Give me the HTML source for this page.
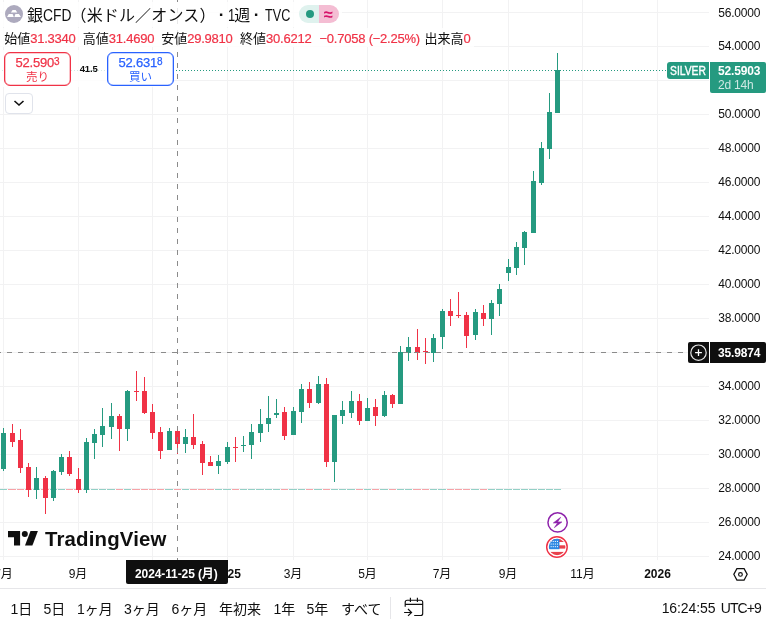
<!DOCTYPE html>
<html lang="ja">
<head>
<meta charset="utf-8">
<title>銀CFD（米ドル／オンス）・1週・TVC</title>
<style>
html,body{margin:0;padding:0;background:#fff;}
body{width:766px;height:624px;overflow:hidden;position:relative;font-family:"Liberation Sans","Noto Sans CJK JP",sans-serif;color:#0f0f0f;}
#chart{position:absolute;left:0;top:0;width:766px;height:624px;}
.t{position:absolute;white-space:nowrap;line-height:1;}
.ax{position:absolute;left:718.300px;font-size:12px;letter-spacing:-0.22px;line-height:14px;height:14px;white-space:nowrap;}
.tm{position:absolute;top:567px;font-size:12px;line-height:14px;height:14px;white-space:nowrap;transform:translateX(-50%);}
.lg{position:absolute;top:31px;font-size:13px;line-height:15px;height:15px;white-space:nowrap;}
.lg b{font-weight:normal;color:#f03246;letter-spacing:-0.23px;-webkit-text-stroke:0.2px;}
.rb{position:absolute;top:601px;font-size:14px;line-height:16px;height:16px;white-space:nowrap;}
.btn{position:absolute;top:52px;width:65px;height:32px;border:1px solid;border-radius:6px;box-shadow:inset 0 0 0 0.3px currentColor;background:#fff;text-align:center;}
.btn .p{position:absolute;left:0;right:0;top:2.500px;-webkit-text-stroke:0.250px;font-size:13px;line-height:14px;letter-spacing:-0.2px;}
.btn .p sup{font-size:10px;vertical-align:top;position:relative;top:-1px;letter-spacing:0;}
.btn .l{position:absolute;left:0;right:0;top:18px;font-size:11.5px;line-height:13px;}
</style>
</head>
<body>
<svg id="chart" width="766" height="624" viewBox="0 0 766 624" shape-rendering="crispEdges">
<rect x="0" y="12" width="709" height="1" fill="#f2f2f3"/>
<rect x="0" y="46" width="709" height="1" fill="#f2f2f3"/>
<rect x="0" y="80" width="709" height="1" fill="#f2f2f3"/>
<rect x="0" y="114" width="709" height="1" fill="#f2f2f3"/>
<rect x="0" y="148" width="709" height="1" fill="#f2f2f3"/>
<rect x="0" y="182" width="709" height="1" fill="#f2f2f3"/>
<rect x="0" y="216" width="709" height="1" fill="#f2f2f3"/>
<rect x="0" y="250" width="709" height="1" fill="#f2f2f3"/>
<rect x="0" y="284" width="709" height="1" fill="#f2f2f3"/>
<rect x="0" y="318" width="709" height="1" fill="#f2f2f3"/>
<rect x="0" y="352" width="709" height="1" fill="#f2f2f3"/>
<rect x="0" y="386" width="709" height="1" fill="#f2f2f3"/>
<rect x="0" y="420" width="709" height="1" fill="#f2f2f3"/>
<rect x="0" y="454" width="709" height="1" fill="#f2f2f3"/>
<rect x="0" y="488" width="709" height="1" fill="#f2f2f3"/>
<rect x="0" y="522" width="709" height="1" fill="#f2f2f3"/>
<rect x="0" y="556" width="709" height="1" fill="#f2f2f3"/>
<rect x="3" y="0" width="1" height="560" fill="#f2f2f3"/>
<rect x="78" y="0" width="1" height="560" fill="#f2f2f3"/>
<rect x="152" y="0" width="1" height="560" fill="#f2f2f3"/>
<rect x="227" y="0" width="1" height="560" fill="#f2f2f3"/>
<rect x="293" y="0" width="1" height="560" fill="#f2f2f3"/>
<rect x="367" y="0" width="1" height="560" fill="#f2f2f3"/>
<rect x="442" y="0" width="1" height="560" fill="#f2f2f3"/>
<rect x="508" y="0" width="1" height="560" fill="#f2f2f3"/>
<rect x="582" y="0" width="1" height="560" fill="#f2f2f3"/>
<rect x="657" y="0" width="1" height="560" fill="#f2f2f3"/>
<rect x="0" y="489" width="7" height="1" fill="#93d0c6"/>
<rect x="8" y="489" width="8" height="1" fill="#f7a3a8"/>
<rect x="17" y="489" width="7" height="1" fill="#f7a3a8"/>
<rect x="25" y="489" width="7" height="1" fill="#f7a3a8"/>
<rect x="33" y="489" width="7" height="1" fill="#93d0c6"/>
<rect x="41" y="489" width="8" height="1" fill="#f7a3a8"/>
<rect x="50" y="489" width="7" height="1" fill="#93d0c6"/>
<rect x="58" y="489" width="7" height="1" fill="#93d0c6"/>
<rect x="66" y="489" width="7" height="1" fill="#f7a3a8"/>
<rect x="74" y="489" width="8" height="1" fill="#f7a3a8"/>
<rect x="83" y="489" width="7" height="1" fill="#93d0c6"/>
<rect x="91" y="489" width="7" height="1" fill="#93d0c6"/>
<rect x="99" y="489" width="7" height="1" fill="#93d0c6"/>
<rect x="107" y="489" width="8" height="1" fill="#93d0c6"/>
<rect x="116" y="489" width="7" height="1" fill="#f7a3a8"/>
<rect x="124" y="489" width="7" height="1" fill="#93d0c6"/>
<rect x="132" y="489" width="8" height="1" fill="#f7a3a8"/>
<rect x="141" y="489" width="7" height="1" fill="#f7a3a8"/>
<rect x="149" y="489" width="7" height="1" fill="#f7a3a8"/>
<rect x="157" y="489" width="7" height="1" fill="#f7a3a8"/>
<rect x="165" y="489" width="8" height="1" fill="#93d0c6"/>
<rect x="174" y="489" width="7" height="1" fill="#f7a3a8"/>
<rect x="182" y="489" width="7" height="1" fill="#93d0c6"/>
<rect x="190" y="489" width="7" height="1" fill="#f7a3a8"/>
<rect x="198" y="489" width="8" height="1" fill="#f7a3a8"/>
<rect x="207" y="489" width="7" height="1" fill="#f7a3a8"/>
<rect x="215" y="489" width="7" height="1" fill="#93d0c6"/>
<rect x="223" y="489" width="8" height="1" fill="#93d0c6"/>
<rect x="232" y="489" width="7" height="1" fill="#f7a3a8"/>
<rect x="240" y="489" width="7" height="1" fill="#93d0c6"/>
<rect x="248" y="489" width="7" height="1" fill="#93d0c6"/>
<rect x="256" y="489" width="8" height="1" fill="#93d0c6"/>
<rect x="265" y="489" width="7" height="1" fill="#93d0c6"/>
<rect x="273" y="489" width="7" height="1" fill="#93d0c6"/>
<rect x="281" y="489" width="7" height="1" fill="#f7a3a8"/>
<rect x="289" y="489" width="8" height="1" fill="#93d0c6"/>
<rect x="298" y="489" width="7" height="1" fill="#93d0c6"/>
<rect x="306" y="489" width="7" height="1" fill="#f7a3a8"/>
<rect x="314" y="489" width="8" height="1" fill="#93d0c6"/>
<rect x="323" y="489" width="7" height="1" fill="#f7a3a8"/>
<rect x="331" y="489" width="7" height="1" fill="#93d0c6"/>
<rect x="339" y="489" width="7" height="1" fill="#93d0c6"/>
<rect x="347" y="489" width="8" height="1" fill="#93d0c6"/>
<rect x="356" y="489" width="7" height="1" fill="#f7a3a8"/>
<rect x="364" y="489" width="7" height="1" fill="#93d0c6"/>
<rect x="372" y="489" width="7" height="1" fill="#f7a3a8"/>
<rect x="380" y="489" width="8" height="1" fill="#93d0c6"/>
<rect x="389" y="489" width="7" height="1" fill="#f7a3a8"/>
<rect x="397" y="489" width="7" height="1" fill="#93d0c6"/>
<rect x="405" y="489" width="7" height="1" fill="#93d0c6"/>
<rect x="413" y="489" width="8" height="1" fill="#f7a3a8"/>
<rect x="422" y="489" width="7" height="1" fill="#f7a3a8"/>
<rect x="430" y="489" width="7" height="1" fill="#93d0c6"/>
<rect x="438" y="489" width="8" height="1" fill="#93d0c6"/>
<rect x="447" y="489" width="7" height="1" fill="#f7a3a8"/>
<rect x="455" y="489" width="7" height="1" fill="#f7a3a8"/>
<rect x="463" y="489" width="7" height="1" fill="#f7a3a8"/>
<rect x="471" y="489" width="8" height="1" fill="#93d0c6"/>
<rect x="480" y="489" width="7" height="1" fill="#f7a3a8"/>
<rect x="488" y="489" width="7" height="1" fill="#93d0c6"/>
<rect x="496" y="489" width="7" height="1" fill="#93d0c6"/>
<rect x="504" y="489" width="8" height="1" fill="#93d0c6"/>
<rect x="513" y="489" width="7" height="1" fill="#93d0c6"/>
<rect x="521" y="489" width="7" height="1" fill="#93d0c6"/>
<rect x="529" y="489" width="8" height="1" fill="#93d0c6"/>
<rect x="538" y="489" width="7" height="1" fill="#93d0c6"/>
<rect x="546" y="489" width="7" height="1" fill="#93d0c6"/>
<rect x="554" y="489" width="7" height="1" fill="#93d0c6"/>
<path d="M2 70.5H667" stroke="#259a80" stroke-width="1" stroke-dasharray="1 2" fill="none"/>
<rect x="3" y="428" width="1" height="43" fill="#259a80"/>
<rect x="1" y="433" width="5" height="36" fill="#259a80"/>
<rect x="12" y="424" width="1" height="23" fill="#f03246"/>
<rect x="10" y="433" width="5" height="9" fill="#f03246"/>
<rect x="20" y="429" width="1" height="44" fill="#f03246"/>
<rect x="18" y="440" width="5" height="28" fill="#f03246"/>
<rect x="28" y="463" width="1" height="34" fill="#f03246"/>
<rect x="26" y="467" width="5" height="23" fill="#f03246"/>
<rect x="36" y="467" width="1" height="32" fill="#259a80"/>
<rect x="34" y="478" width="5" height="12" fill="#259a80"/>
<rect x="45" y="476" width="1" height="38" fill="#f03246"/>
<rect x="43" y="478" width="5" height="20" fill="#f03246"/>
<rect x="53" y="470" width="1" height="31" fill="#259a80"/>
<rect x="51" y="471" width="5" height="27" fill="#259a80"/>
<rect x="61" y="454" width="1" height="21" fill="#259a80"/>
<rect x="59" y="457" width="5" height="15" fill="#259a80"/>
<rect x="69" y="451" width="1" height="25" fill="#f03246"/>
<rect x="67" y="457" width="5" height="17" fill="#f03246"/>
<rect x="78" y="468" width="1" height="25" fill="#f03246"/>
<rect x="76" y="479" width="5" height="11" fill="#f03246"/>
<rect x="86" y="438" width="1" height="55" fill="#259a80"/>
<rect x="84" y="442" width="5" height="48" fill="#259a80"/>
<rect x="94" y="429" width="1" height="30" fill="#259a80"/>
<rect x="92" y="434" width="5" height="9" fill="#259a80"/>
<rect x="102" y="408" width="1" height="39" fill="#259a80"/>
<rect x="100" y="426" width="5" height="9" fill="#259a80"/>
<rect x="111" y="403" width="1" height="36" fill="#259a80"/>
<rect x="109" y="416" width="5" height="11" fill="#259a80"/>
<rect x="119" y="414" width="1" height="37" fill="#f03246"/>
<rect x="117" y="416" width="5" height="13" fill="#f03246"/>
<rect x="127" y="390" width="1" height="51" fill="#259a80"/>
<rect x="125" y="391" width="5" height="38" fill="#259a80"/>
<rect x="136" y="371" width="1" height="30" fill="#f03246"/>
<rect x="134" y="391" width="5" height="1" fill="#f03246"/>
<rect x="144" y="377" width="1" height="37" fill="#f03246"/>
<rect x="142" y="391" width="5" height="22" fill="#f03246"/>
<rect x="152" y="404" width="1" height="35" fill="#f03246"/>
<rect x="150" y="412" width="5" height="21" fill="#f03246"/>
<rect x="160" y="427" width="1" height="32" fill="#f03246"/>
<rect x="158" y="432" width="5" height="19" fill="#f03246"/>
<rect x="169" y="428" width="1" height="22" fill="#259a80"/>
<rect x="167" y="431" width="5" height="19" fill="#259a80"/>
<rect x="177" y="429" width="1" height="25" fill="#f03246"/>
<rect x="175" y="431" width="5" height="13" fill="#f03246"/>
<rect x="185" y="429" width="1" height="24" fill="#259a80"/>
<rect x="183" y="437" width="5" height="7" fill="#259a80"/>
<rect x="193" y="414" width="1" height="35" fill="#f03246"/>
<rect x="191" y="437" width="5" height="8" fill="#f03246"/>
<rect x="202" y="441" width="1" height="34" fill="#f03246"/>
<rect x="200" y="444" width="5" height="19" fill="#f03246"/>
<rect x="210" y="456" width="1" height="10" fill="#f03246"/>
<rect x="208" y="462" width="5" height="4" fill="#f03246"/>
<rect x="218" y="455" width="1" height="19" fill="#259a80"/>
<rect x="216" y="461" width="5" height="5" fill="#259a80"/>
<rect x="227" y="442" width="1" height="22" fill="#259a80"/>
<rect x="225" y="447" width="5" height="15" fill="#259a80"/>
<rect x="235" y="437" width="1" height="25" fill="#f03246"/>
<rect x="233" y="447" width="5" height="1" fill="#f03246"/>
<rect x="243" y="436" width="1" height="16" fill="#259a80"/>
<rect x="241" y="445" width="5" height="1" fill="#259a80"/>
<rect x="251" y="424" width="1" height="35" fill="#259a80"/>
<rect x="249" y="432" width="5" height="13" fill="#259a80"/>
<rect x="260" y="409" width="1" height="33" fill="#259a80"/>
<rect x="258" y="424" width="5" height="9" fill="#259a80"/>
<rect x="268" y="396" width="1" height="36" fill="#259a80"/>
<rect x="266" y="418" width="5" height="6" fill="#259a80"/>
<rect x="276" y="399" width="1" height="19" fill="#259a80"/>
<rect x="274" y="413" width="5" height="2" fill="#259a80"/>
<rect x="284" y="407" width="1" height="33" fill="#f03246"/>
<rect x="282" y="412" width="5" height="24" fill="#f03246"/>
<rect x="293" y="407" width="1" height="28" fill="#259a80"/>
<rect x="291" y="411" width="5" height="24" fill="#259a80"/>
<rect x="301" y="384" width="1" height="39" fill="#259a80"/>
<rect x="299" y="389" width="5" height="23" fill="#259a80"/>
<rect x="309" y="382" width="1" height="26" fill="#f03246"/>
<rect x="307" y="389" width="5" height="14" fill="#f03246"/>
<rect x="318" y="376" width="1" height="28" fill="#259a80"/>
<rect x="316" y="384" width="5" height="19" fill="#259a80"/>
<rect x="326" y="378" width="1" height="89" fill="#f03246"/>
<rect x="324" y="384" width="5" height="78" fill="#f03246"/>
<rect x="334" y="415" width="1" height="67" fill="#259a80"/>
<rect x="332" y="415" width="5" height="47" fill="#259a80"/>
<rect x="342" y="401" width="1" height="23" fill="#259a80"/>
<rect x="340" y="410" width="5" height="6" fill="#259a80"/>
<rect x="351" y="391" width="1" height="27" fill="#259a80"/>
<rect x="349" y="401" width="5" height="12" fill="#259a80"/>
<rect x="359" y="394" width="1" height="31" fill="#f03246"/>
<rect x="357" y="401" width="5" height="20" fill="#f03246"/>
<rect x="367" y="398" width="1" height="23" fill="#259a80"/>
<rect x="365" y="408" width="5" height="13" fill="#259a80"/>
<rect x="375" y="399" width="1" height="27" fill="#f03246"/>
<rect x="373" y="407" width="5" height="9" fill="#f03246"/>
<rect x="384" y="391" width="1" height="26" fill="#259a80"/>
<rect x="382" y="395" width="5" height="21" fill="#259a80"/>
<rect x="392" y="394" width="1" height="14" fill="#f03246"/>
<rect x="390" y="395" width="5" height="9" fill="#f03246"/>
<rect x="400" y="346" width="1" height="58" fill="#259a80"/>
<rect x="398" y="352" width="5" height="52" fill="#259a80"/>
<rect x="408" y="337" width="1" height="24" fill="#259a80"/>
<rect x="406" y="347" width="5" height="6" fill="#259a80"/>
<rect x="417" y="329" width="1" height="31" fill="#f03246"/>
<rect x="415" y="347" width="5" height="6" fill="#f03246"/>
<rect x="425" y="338" width="1" height="26" fill="#f03246"/>
<rect x="423" y="351" width="5" height="1" fill="#f03246"/>
<rect x="433" y="334" width="1" height="28" fill="#259a80"/>
<rect x="431" y="338" width="5" height="15" fill="#259a80"/>
<rect x="442" y="309" width="1" height="40" fill="#259a80"/>
<rect x="440" y="311" width="5" height="26" fill="#259a80"/>
<rect x="450" y="299" width="1" height="27" fill="#f03246"/>
<rect x="448" y="311" width="5" height="5" fill="#f03246"/>
<rect x="458" y="292" width="1" height="26" fill="#f03246"/>
<rect x="456" y="315" width="5" height="1" fill="#f03246"/>
<rect x="466" y="312" width="1" height="36" fill="#f03246"/>
<rect x="464" y="315" width="5" height="21" fill="#f03246"/>
<rect x="475" y="309" width="1" height="31" fill="#259a80"/>
<rect x="473" y="312" width="5" height="23" fill="#259a80"/>
<rect x="483" y="305" width="1" height="21" fill="#f03246"/>
<rect x="481" y="313" width="5" height="6" fill="#f03246"/>
<rect x="491" y="300" width="1" height="35" fill="#259a80"/>
<rect x="489" y="303" width="5" height="16" fill="#259a80"/>
<rect x="499" y="284" width="1" height="32" fill="#259a80"/>
<rect x="497" y="289" width="5" height="15" fill="#259a80"/>
<rect x="508" y="259" width="1" height="22" fill="#259a80"/>
<rect x="506" y="267" width="5" height="6" fill="#259a80"/>
<rect x="516" y="242" width="1" height="33" fill="#259a80"/>
<rect x="514" y="247" width="5" height="21" fill="#259a80"/>
<rect x="524" y="231" width="1" height="34" fill="#259a80"/>
<rect x="522" y="232" width="5" height="16" fill="#259a80"/>
<rect x="533" y="171" width="1" height="62" fill="#259a80"/>
<rect x="531" y="181" width="5" height="52" fill="#259a80"/>
<rect x="541" y="142" width="1" height="43" fill="#259a80"/>
<rect x="539" y="148" width="5" height="35" fill="#259a80"/>
<rect x="549" y="93" width="1" height="66" fill="#259a80"/>
<rect x="547" y="112" width="5" height="37" fill="#259a80"/>
<rect x="557" y="53" width="1" height="60" fill="#259a80"/>
<rect x="555" y="70" width="5" height="43" fill="#259a80"/>
<path d="M177.5 -3V560" stroke="#858585" stroke-opacity="0.95" stroke-width="1" stroke-dasharray="5 6" fill="none"/>
<path d="M-4 352.5H688" stroke="#858585" stroke-opacity="0.95" stroke-width="1" stroke-dasharray="5 6" fill="none"/>
</svg>

<!-- separator lines -->
<div style="position:absolute;left:0;top:588px;width:766px;height:1px;background:#e6e6e9"></div>
<div style="position:absolute;left:390px;top:597px;width:1px;height:22px;background:#e6e6e9"></div>

<!-- price axis labels -->
<div class="ax" style="top:6px">56.0000</div>
<div class="ax" style="top:39px">54.0000</div>
<div class="ax" style="top:107px">50.0000</div>
<div class="ax" style="top:141px">48.0000</div>
<div class="ax" style="top:175px">46.0000</div>
<div class="ax" style="top:209px">44.0000</div>
<div class="ax" style="top:243px">42.0000</div>
<div class="ax" style="top:277px">40.0000</div>
<div class="ax" style="top:311px">38.0000</div>
<div class="ax" style="top:379px">34.0000</div>
<div class="ax" style="top:413px">32.0000</div>
<div class="ax" style="top:447px">30.0000</div>
<div class="ax" style="top:481px">28.0000</div>
<div class="ax" style="top:515px">26.0000</div>
<div class="ax" style="top:549px">24.0000</div>

<!-- SILVER label + price label -->
<div style="position:absolute;left:667px;top:62px;width:42px;height:17px;background:#259a80;border-radius:3px 0 0 3px;"></div>
<div class="t" style="left:670.200px;top:64px;font-size:12px;line-height:14px;color:#fff;transform:scaleX(.86);transform-origin:0 0;-webkit-text-stroke:0.350px;">SILVER</div>
<div style="position:absolute;left:710px;top:62px;width:56px;height:31px;background:#259a80;border-radius:0 2px 2px 2px;"></div>
<div class="t" style="left:718px;top:64px;font-size:12px;line-height:14px;color:#fff;font-weight:bold;letter-spacing:-0.15px;">52.5903</div>
<div class="t" style="left:718px;top:78px;font-size:12px;line-height:14px;color:rgba(255,255,255,.78);letter-spacing:-0.2px;">2d 14h</div>

<!-- crosshair price label -->
<div style="position:absolute;left:688px;top:342px;width:21px;height:21px;background:#0f0f0f;border-radius:2px 0 0 2px;"></div>
<svg style="position:absolute;left:688px;top:342px" width="21" height="21" viewBox="0 0 21 21"><circle cx="10.500" cy="10.700" r="7.700" fill="none" stroke="#e6e6e6" stroke-width="1.200"/><path d="M10.500 7.300v6.800M7.100 10.700h6.800" stroke="#fff" stroke-width="1.300" fill="none"/></svg>
<div style="position:absolute;left:710px;top:342px;width:56px;height:21px;background:#0f0f0f;border-radius:0 2px 2px 0;"></div>
<div class="t" style="left:718px;top:346px;font-size:12px;line-height:14px;color:#fff;font-weight:bold;letter-spacing:-0.15px;">35.9874</div>

<!-- time axis labels -->
<div class="tm" style="left:3.5px">7月</div>
<div class="tm" style="left:78px">9月</div>
<div class="tm" style="left:152.5px">11月</div>
<div class="tm" style="left:227.5px;font-weight:bold">2025</div>
<div class="tm" style="left:293px">3月</div>
<div class="tm" style="left:367.5px">5月</div>
<div class="tm" style="left:442px">7月</div>
<div class="tm" style="left:508px">9月</div>
<div class="tm" style="left:582.5px">11月</div>
<div class="tm" style="left:657.5px;font-weight:bold">2026</div>
<!-- crosshair time label -->
<div style="position:absolute;left:126px;top:560px;width:102px;height:24px;background:#0f0f0f;border-radius:0 0 2px 2px;"></div>
<div class="t" style="left:135px;top:567px;font-size:12px;line-height:14px;color:#fff;font-weight:bold;letter-spacing:-0.100px;">2024-11-25 (月)</div>

<!-- settings hex icon -->
<svg style="position:absolute;left:731px;top:566px" width="19" height="17" viewBox="0 0 19 17" fill="none" stroke="#0f0f0f" stroke-width="1.200"><path d="M2.800 8.350 5.900 2.600H13.100L16.200 8.350 13.100 14.100H5.900z"/><circle cx="9.450" cy="8.400" r="1.850"/></svg>

<!-- header -->
<div style="position:absolute;left:0;top:2px;width:342px;height:25px;background:rgba(255,255,255,.8)"></div>
<div style="position:absolute;left:0;top:28px;width:474px;height:19px;background:rgba(255,255,255,.8)"></div>
<div style="position:absolute;left:0;top:50px;width:174px;height:37px;background:rgba(255,255,255,.8)"></div>
<svg style="position:absolute;left:5px;top:5px" width="18" height="18" viewBox="0 0 18 18"><circle cx="9" cy="9" r="9" fill="#adaabe"/><path d="M7.600 5h3l1.700 2.600H5.900zM3.800 9.100h3.800l1.200 2.900H2.050zM10.400 9.100h3.500l2 2.900H9.400z" fill="#fff"/></svg>
<div class="t" style="left:27px;top:6px;font-size:16px;line-height:20px;width:195px;">銀<span style="display:inline-block;width:27.500px;"><span style="display:inline-block;transform:scaleX(.865);transform-origin:0 0;">CFD</span></span><span style="letter-spacing:0.150px">（米ドル／オンス）</span></div>

<div class="t" style="left:217px;top:4.800px;font-size:17px;line-height:20px;width:9px;text-align:center;font-weight:bold;">·</div>
<div class="t" style="left:227.500px;top:6px;font-size:16px;line-height:20px;transform:scaleX(.8);transform-origin:0 0;">1</div>
<div class="t" style="left:234.300px;top:6px;font-size:16px;line-height:20px;">週</div>
<div class="t" style="left:252.200px;top:4.800px;font-size:17px;line-height:20px;width:9px;text-align:center;font-weight:bold;">·</div>
<div class="t" style="left:264.500px;top:6px;font-size:16px;line-height:20px;transform:scaleX(.79);transform-origin:0 0;">TVC</div>
<!-- status pill -->
<div style="position:absolute;left:299px;top:5px;width:20px;height:18px;background:#dff2ee;border-radius:9px 0 0 9px;"></div>
<div style="position:absolute;left:319px;top:5px;width:20px;height:18px;background:#f4bdd3;border-radius:0 9px 9px 0;"></div>
<div style="position:absolute;left:306px;top:10px;width:8px;height:8px;border-radius:50%;background:#259a80;"></div>
<div class="t" style="left:321px;top:4.500px;width:14px;text-align:center;font-size:16.500px;line-height:18px;color:#d6146a;font-weight:bold;">≈</div>

<!-- legend row -->
<div class="lg" style="left:4.200px">始値<b>31.3340</b></div>
<div class="lg" style="left:82.800px">高値<b>31.4690</b></div>
<div class="lg" style="left:161.200px">安値<b>29.9810</b></div>
<div class="lg" style="left:240px">終値<b>30.6212</b></div>
<div class="lg" style="left:319.500px"><b>−0.7058 (−2.25%)</b></div>
<div class="lg" style="left:424.400px">出来高<b>0</b></div>

<!-- sell / buy -->
<div class="btn" style="left:4px;border-color:#f03246;color:#f03246"><div class="p">52.590<sup>3</sup></div><div class="l">売り</div></div>
<div class="btn" style="left:107px;border-color:#2962ff;color:#2962ff"><div class="p">52.631<sup>8</sup></div><div class="l">買い</div></div>
<div class="t" style="left:79.700px;top:63px;font-size:9.500px;line-height:12px;letter-spacing:-0.1px;font-weight:bold;">41.5</div>

<!-- collapse button -->
<div style="position:absolute;left:4.500px;top:93px;width:26px;height:18.500px;border:1px solid #e0e3eb;border-radius:4px;background:#fff;"></div>
<svg style="position:absolute;left:12px;top:98px" width="14" height="10" viewBox="0 0 14 10" fill="none" stroke="#0f0f0f" stroke-width="1.600"><path d="M2.500 3l4.500 4 4.500-4"/></svg>

<!-- event icons -->
<svg style="position:absolute;left:545px;top:510px" width="25" height="50" viewBox="0 0 25 50">
<circle cx="12.600" cy="12.450" r="12" fill="#fff"/>
<circle cx="12.600" cy="12.450" r="9.650" fill="#fff" stroke="#8d22ab" stroke-width="1.500"/>
<path d="M15.650 7.300 8.300 12.950h4.300L9.400 17.600l7.500-5.650h-4.300z" fill="#8d22ab" stroke="#8d22ab" stroke-width="0.600" stroke-linejoin="round"/>
<circle cx="11.950" cy="37" r="12" fill="#fff"/>
<circle cx="11.950" cy="37" r="10.250" fill="#fff" stroke="#f03246" stroke-width="1.450"/>
<clipPath id="fc"><circle cx="12.150" cy="37" r="8.300"/></clipPath>
<g clip-path="url(#fc)">
<rect x="3" y="28" width="20" height="18" fill="#fff"/>
<rect x="3" y="28.700" width="20" height="3.300" fill="#e8414b"/>
<rect x="3" y="35.300" width="20" height="3.300" fill="#e8414b"/>
<rect x="3" y="41.900" width="20" height="3.600" fill="#e8414b"/>
<rect x="3" y="28" width="11.400" height="11.200" fill="#2b87e3"/>
<g fill="#eef6fe"><rect x="5.6" y="30.9" width="1.100" height="1.100"/><rect x="7.7" y="30.9" width="1.100" height="1.100"/><rect x="9.8" y="30.9" width="1.100" height="1.100"/><rect x="11.9" y="30.9" width="1.100" height="1.100"/><rect x="5.6" y="33.5" width="1.100" height="1.100"/><rect x="7.7" y="33.5" width="1.100" height="1.100"/><rect x="9.8" y="33.5" width="1.100" height="1.100"/><rect x="11.9" y="33.5" width="1.100" height="1.100"/><rect x="5.6" y="36.1" width="1.100" height="1.100"/><rect x="7.7" y="36.1" width="1.100" height="1.100"/><rect x="9.8" y="36.1" width="1.100" height="1.100"/><rect x="11.9" y="36.1" width="1.100" height="1.100"/></g>
</g>
</svg>

<!-- TradingView logo -->
<svg style="position:absolute;left:8px;top:527px" width="32" height="24" viewBox="0 0 32 24"><path d="M0 4h12.100v14.600H6V10.300H0z" fill="#0f0f0f"/><circle cx="16.800" cy="7.100" r="3" fill="#0f0f0f"/><path d="M22.500 4h7.400l-5.500 14.600h-7.400z" fill="#0f0f0f"/></svg>
<div class="t" style="left:45px;top:526.500px;font-size:20.400px;line-height:24px;font-weight:bold;letter-spacing:0.170px;">TradingView</div>

<!-- bottom range bar -->
<div class="rb" style="left:10.500px">1日</div>
<div class="rb" style="left:43.500px">5日</div>
<div class="rb" style="left:77px">1ヶ月</div>
<div class="rb" style="left:124px">3ヶ月</div>
<div class="rb" style="left:171.500px">6ヶ月</div>
<div class="rb" style="left:219px">年初来</div>
<div class="rb" style="left:273.500px">1年</div>
<div class="rb" style="left:306.500px">5年</div>
<div class="rb" style="left:341px">すべて</div>
<svg style="position:absolute;left:399px;top:594px" width="28" height="28" viewBox="0 0 28 28" fill="none" stroke="#0f0f0f" stroke-width="1.150"><path d="M6.200 12.700V8.200a2 2 0 0 1 2-2H21.700a2 2 0 0 1 2 2V19.450a2 2 0 0 1-2 2H15.200M6.200 10.300H23.700M11.400 3.800V8.100M18.400 3.800V8.100M5.100 18.500H12.500M9 15l3.600 3.500L9 21.900"/></svg>
<div class="rb" style="left:661.700px;top:600px;letter-spacing:-0.100px;">16:24:55<span style="letter-spacing:-0.900px;margin-left:2.300px"> UTC+9</span></div>
</body>
</html>
